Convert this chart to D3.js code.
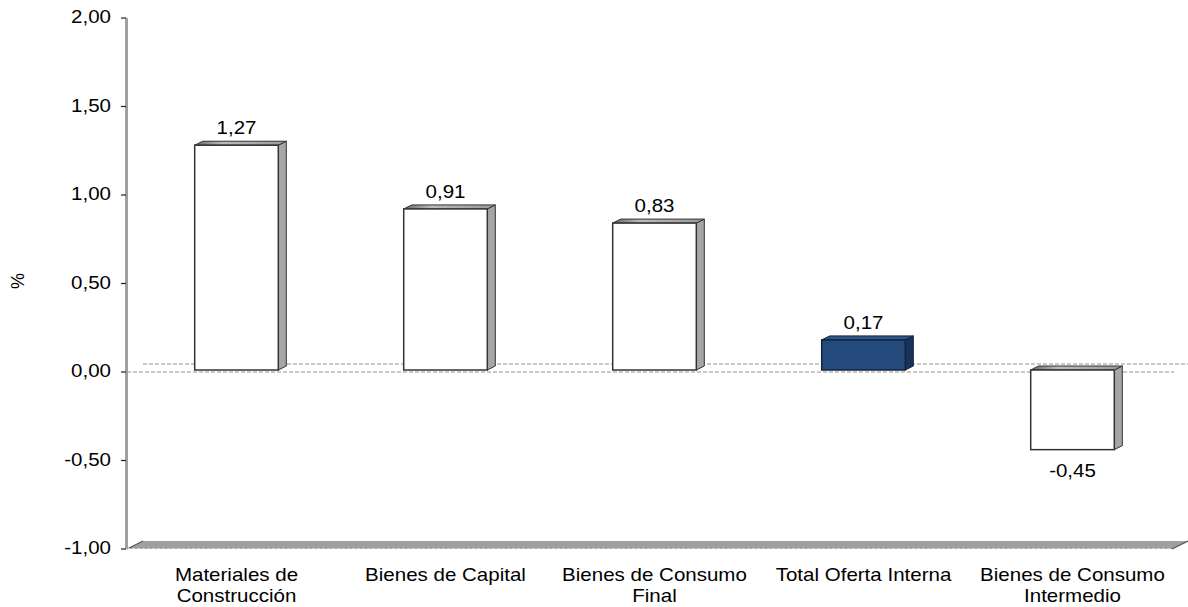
<!DOCTYPE html>
<html><head><meta charset="utf-8">
<script src="https://cdn.jsdelivr.net/npm/d3@7"></script>
<style>body{margin:0;background:#fff}svg{display:block}text{font-family:"Liberation Sans",Arial,sans-serif;fill:#000}</style>
</head><body><svg id="c" width="1188" height="607"></svg>
<script>
const categories = [["Materiales de","Construcción"],["Bienes de Capital"],["Bienes de Consumo","Final"],["Total Oferta Interna"],["Bienes de Consumo","Intermedio"]];
const values = [1.27, 0.91, 0.83, 0.17, -0.45];
const highlight = [false, false, false, true, false];
const yTicks = [-1, -0.5, 0, 0.5, 1, 1.5, 2];

const svg = d3.select("#c");
const loc = d3.formatLocale({decimal: ",", thousands: ".", grouping: [3], currency: ["", ""], minus: "-"});
const fmt = loc.format(".2f");
const FS = 18, SX = 1.14;
const keys = categories.map(c => c.join(" "));

const x = d3.scaleBand().domain(keys).range([127, 1172]).paddingInner(0.6).paddingOuter(0.3);
const y = d3.scaleLinear().domain([-1, 2]).range([549, 18]);

const WD = 16, WH = 8;   // wall depth
const BX = 5, BY = -2;   // bar front offset
const DX = 8, DY = 4;    // bar depth

function stext(parent, tx, ty, anchor, str, dy) {
  return parent.append("text")
    .attr("transform", `translate(${tx},${ty}) scale(${SX},1)`)
    .attr("text-anchor", anchor).attr("font-size", FS)
    .attr("dy", dy || 0).text(str);
}

// floor
const f0 = y(-1);
svg.append("polygon")
  .attr("points", [[127, f0], [1172, f0], [1172 + WD, f0 - WH], [127 + WD, f0 - WH]].join(" "))
  .attr("fill", "#a0a0a0");
svg.append("line").attr("x1", 127).attr("x2", 127 + WD).attr("y1", f0).attr("y2", f0 - WH)
  .attr("stroke", "#555").attr("stroke-width", 1.2);
svg.append("line").attr("x1", 1172).attr("x2", 1172 + WD).attr("y1", f0).attr("y2", f0 - WH)
  .attr("stroke", "#555").attr("stroke-width", 1.2);
svg.append("line").attr("x1", 127).attr("x2", 1172).attr("y1", f0 - 0.5).attr("y2", f0 - 0.5)
  .attr("stroke", "#d0d0d0").attr("stroke-width", 1.2).attr("stroke-dasharray", "3,2");

// zero lines (back and front)
svg.append("line").attr("x1", 127 + WD).attr("x2", 1188).attr("y1", y(0) - WH).attr("y2", y(0) - WH)
  .attr("stroke", "#c8c8c8").attr("stroke-width", 2).attr("stroke-dasharray", "4,2");
svg.append("line").attr("x1", 127).attr("x2", 1174).attr("y1", y(0)).attr("y2", y(0))
  .attr("stroke", "#c8c8c8").attr("stroke-width", 2).attr("stroke-dasharray", "4,2");

// y axis
svg.append("line").attr("x1", 126.5).attr("x2", 126.5).attr("y1", y(2)).attr("y2", y(-1))
  .attr("stroke", "#a0a0a0").attr("stroke-width", 3);
const yt = svg.append("g");
yt.selectAll("line").data(yTicks).join("line")
  .attr("x1", 121).attr("x2", 126).attr("y1", d => y(d)).attr("y2", d => y(d))
  .attr("stroke", "#222").attr("stroke-width", 1.2);
yTicks.forEach(d => stext(yt, 111, y(d) - 1, "end", fmt(d), "0.36em"));

svg.append("text").attr("transform", "translate(24,281) rotate(-90)")
  .attr("text-anchor", "middle").attr("font-size", FS).text("%");

// gradient for top faces
const defs = svg.append("defs");
const g1 = defs.append("linearGradient").attr("id", "topg").attr("x1", 0).attr("x2", 1).attr("y1", 0).attr("y2", 0);
g1.append("stop").attr("offset", "0%").attr("stop-color", "#666");
g1.append("stop").attr("offset", "30%").attr("stop-color", "#bbb");
g1.append("stop").attr("offset", "100%").attr("stop-color", "#999");

// bars
const bars = svg.append("g").selectAll("g").data(values).join("g");
bars.each(function(v, i) {
  const g = d3.select(this);
  const x0 = x(keys[i]) + BX, x1 = x0 + x.bandwidth();
  const top = y(Math.max(v, 0)) + BY, bot = y(Math.min(v, 0)) + BY;
  const hl = highlight[i];
  const front = hl ? "#244a7c" : "#ffffff";
  const side = hl ? "#17335a" : "#a6a6a6";
  const topc = hl ? "#2c5588" : "url(#topg)";
  const edge = hl ? "#10243f" : "#333";
  g.append("polygon").attr("points", [[x1, top], [x1 + DX, top - DY], [x1 + DX, bot - DY], [x1, bot]].join(" "))
    .attr("fill", side).attr("stroke", edge).attr("stroke-width", 1).attr("stroke-linejoin", "round");
  g.append("polygon").attr("points", [[x0, top], [x0 + DX, top - DY], [x1 + DX, top - DY], [x1, top]].join(" "))
    .attr("fill", topc).attr("stroke", edge).attr("stroke-width", 1).attr("stroke-linejoin", "round");
  g.append("rect").attr("x", x0).attr("y", top).attr("width", x1 - x0).attr("height", bot - top)
    .attr("fill", front).attr("stroke", edge).attr("stroke-width", 1.5);
  const cx = (x0 + x1) / 2;
  stext(g, cx, v >= 0 ? top - 11 : bot + 27, "middle", fmt(v));
});

// category labels
const cl = svg.append("g");
categories.forEach((lines, i) => {
  const cx = x(keys[i]) + x.bandwidth() / 2 + BX;
  lines.forEach((s, j) => stext(cl, cx, 581 + j * 21, "middle", s));
});
</script></body></html>
